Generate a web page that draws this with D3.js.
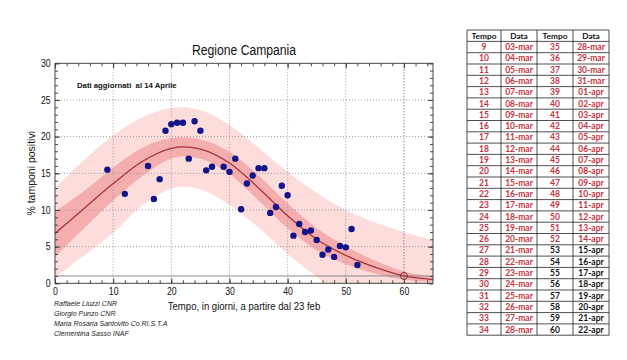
<!DOCTYPE html>
<html>
<head>
<meta charset="utf-8">
<script src="https://cdn.jsdelivr.net/npm/d3@7"></script>
<style>
  html, body { margin: 0; padding: 0; background: #ffffff; }
  svg { display: block; }
</style>
</head>
<body>
<script>
// ---------- DATA ----------
const chartTitle = "Regione Campania";
const xLabel = "Tempo, in giorni, a partire dal 23 feb";
const yLabel = "% tamponi positivi";
const noteText = "Dati aggiornati  al 14 Aprile";
const authors = ["Raffaele Liuzzi CNR", "Giorgio Punzo CNR", "Maria Rosaria Santovito Co.RI.S.T.A", "Clementina Sasso INAF"];

const xTicks = [0, 10, 20, 30, 40, 50, 60];
const yTicks = [0, 5, 10, 15, 20, 25, 30];

// observed points (day, % positive swabs)
const days = [9, 12, 16, 17, 18, 19, 20, 21, 22, 23, 24, 25, 26, 27, 29, 30, 31, 32, 33, 34, 35, 36, 37, 38, 39, 40, 41, 42, 43, 44, 45, 46, 47, 48, 49, 50, 51, 52];
const pct  = [15.5, 12.2, 16.0, 11.5, 14.2, 20.8, 21.7, 21.9, 21.9, 17.0, 22.1, 20.8, 15.4, 15.9, 15.9, 15.2, 17.0, 10.1, 13.6, 14.7, 15.7, 15.7, 9.6, 10.4, 13.3, 12.0, 6.5, 8.1, 7.0, 7.2, 5.9, 3.9, 4.6, 3.6, 5.1, 4.9, 7.4, 2.5];

// fitted curve and confidence bands
const fitX     = [0, 5, 10, 15, 20, 22, 25, 30, 35, 40, 45, 50, 55, 60, 65];
const fitY     = [6.8, 10.2, 13.6, 16.6, 18.4, 18.6, 18.3, 16.4, 13.0, 9.2, 6.0, 3.8, 2.2, 1.0, 0.5];
const innerLo  = [3.6, 7.5, 11.3, 14.6, 17.0, 17.3, 17.0, 14.9, 11.3, 7.5, 4.5, 2.6, 1.3, 0.5, 0.2];
const innerHi  = [9.8, 12.6, 15.8, 18.5, 19.8, 19.9, 19.6, 17.9, 14.7, 10.9, 7.5, 5.1, 3.1, 1.6, 0.9];
const outerLo  = [0.8, 3.8, 6.9, 10.6, 12.9, 13.2, 12.8, 10.7, 7.6, 4.0, 0.9, -2.0, -4.0, -5.0, -5.5];
const outerHi  = [13.0, 16.8, 20.2, 22.6, 23.9, 24.0, 23.6, 21.6, 18.5, 15.2, 12.3, 10.0, 8.3, 7.0, 5.9];

const refLevel = 1;          // horizontal reference line
const markerX = [60], markerY = [1.0]; // open circle

// table
const tableHeader = ["Tempo", "Data", "Tempo", "Data"];
const tempo1 = [9, 10, 11, 12, 13, 14, 15, 16, 17, 18, 19, 20, 21, 22, 23, 24, 25, 26, 27, 28, 29, 30, 31, 32, 33, 34];
const data1 = ["03-mar", "04-mar", "05-mar", "06-mar", "07-mar", "08-mar", "09-mar", "10-mar", "11-mar", "12-mar", "13-mar", "14-mar", "15-mar", "16-mar", "17-mar", "18-mar", "19-mar", "20-mar", "21-mar", "22-mar", "23-mar", "24-mar", "25-mar", "26-mar", "27-mar", "28-mar"];
const tempo2 = [35, 36, 37, 38, 39, 40, 41, 42, 43, 44, 45, 46, 47, 48, 49, 50, 51, 52, 53, 54, 55, 56, 57, 58, 59, 60];
const data2 = ["28-mar", "29-mar", "30-mar", "31-mar", "01-apr", "02-apr", "03-apr", "04-apr", "05-apr", "06-apr", "07-apr", "08-apr", "09-apr", "10-apr", "11-apr", "12-apr", "13-apr", "14-apr", "15-apr", "16-apr", "17-apr", "18-apr", "19-apr", "20-apr", "21-apr", "22-apr"];
const lastDataDay = 52;

// ---------- DRAW ----------
const W = 627, H = 360;
const svg = d3.select("body").append("svg").attr("width", W).attr("height", H)
  .style("font-family", "'Liberation Sans', Arial, sans-serif");
svg.append("rect").attr("width", W).attr("height", H).attr("fill", "#fff");

const x = d3.scaleLinear().domain([0, 65]).range([55, 433]);
const y = d3.scaleLinear().domain([0, 30]).range([283.3, 63.3]);
const [x0, x1] = x.range(), [y0, y1] = y.range();

svg.append("clipPath").attr("id", "plotclip")
  .append("rect").attr("x", x0).attr("y", y1).attr("width", x1 - x0).attr("height", y0 - y1);
const plot = svg.append("g").attr("clip-path", "url(#plotclip)");

const fit = fitX.map((d, i) => ({ x: d, y: fitY[i], il: innerLo[i], ih: innerHi[i], ol: outerLo[i], oh: outerHi[i] }));

const area = (lo, hi) => d3.area().x(d => x(d.x)).y0(d => y(d[lo])).y1(d => y(d[hi])).curve(d3.curveMonotoneX);
plot.append("path").datum(fit).attr("d", area("ol", "oh")).attr("fill", "#fddcdc");
plot.append("path").datum(fit).attr("d", area("il", "ih")).attr("fill", "#f5aeae");

// grid
const grid = plot.append("g");
grid.selectAll(".gx").data(xTicks.filter(t => t > 0)).join("line")
  .attr("x1", d => x(d)).attr("x2", d => x(d)).attr("y1", y1).attr("y2", y0)
  .attr("stroke", d => d === 60 ? "#555" : "#9a9a9a").attr("stroke-width", 1)
  .attr("stroke-dasharray", "1,2");
grid.selectAll(".gy").data(yTicks.filter(t => t > 0 && t < 30)).join("line")
  .attr("x1", x0).attr("x2", x1).attr("y1", d => y(d)).attr("y2", d => y(d))
  .attr("stroke", "#9a9a9a").attr("stroke-width", 1).attr("stroke-dasharray", "1,2");
grid.append("line").attr("x1", x0).attr("x2", x1).attr("y1", y(refLevel)).attr("y2", y(refLevel))
  .attr("stroke", "#8c8c8c").attr("stroke-width", 1);

// fitted curve
plot.append("path").datum(fit)
  .attr("d", d3.line().x(d => x(d.x)).y(d => y(d.y)).curve(d3.curveMonotoneX))
  .attr("fill", "none").attr("stroke", "#a8333a").attr("stroke-width", 1.3);

// observed points
plot.selectAll(".pt").data(days.map((d, i) => [d, pct[i]])).join("circle")
  .attr("cx", d => x(d[0])).attr("cy", d => y(d[1])).attr("r", 3.2).attr("fill", "#13138a");

// open marker
plot.selectAll(".mk").data(markerX.map((d, i) => [d, markerY[i]])).join("circle")
  .attr("cx", d => x(d[0])).attr("cy", d => y(d[1])).attr("r", 3.5)
  .attr("fill", "none").attr("stroke", "#7a3030").attr("stroke-width", 1);

// axes (ticks inside)
const axColor = "#444";
function styleAxis(g) {
  g.select(".domain").remove();
  g.selectAll(".tick line").attr("stroke", axColor);
  g.selectAll("text").attr("fill", "#111").style("font-size", "10px")
    .style("font-family", "'Liberation Sans', Arial, sans-serif");
}
const minorX = d3.range(0, 66, 2), minorY = d3.range(0, 31, 1);
svg.append("g").attr("transform", `translate(0,${y0})`)
  .call(d3.axisBottom(x).tickValues(minorX).tickSize(-3).tickFormat("")).call(styleAxis);
svg.append("g").attr("transform", `translate(0,${y1})`)
  .call(d3.axisTop(x).tickValues(minorX).tickSize(-3).tickFormat("")).call(styleAxis);
svg.append("g").attr("transform", `translate(${x0},0)`)
  .call(d3.axisLeft(y).tickValues(minorY).tickSize(-3).tickFormat("")).call(styleAxis);
svg.append("g").attr("transform", `translate(${x1},0)`)
  .call(d3.axisRight(y).tickValues(minorY).tickSize(-3).tickFormat("")).call(styleAxis);

const gxb = svg.append("g").attr("transform", `translate(0,${y0})`)
  .call(d3.axisBottom(x).tickValues(xTicks).tickSize(-5).tickPadding(5).tickFormat(d3.format("d"))).call(styleAxis);
gxb.selectAll("text").attr("transform", "scale(0.87,1)");
svg.append("g").attr("transform", `translate(0,${y1})`)
  .call(d3.axisTop(x).tickValues(xTicks).tickSize(-5).tickFormat("")).call(styleAxis);
const gyl = svg.append("g").attr("transform", `translate(${x0},0)`)
  .call(d3.axisLeft(y).tickValues(yTicks).tickSize(-5).tickPadding(5).tickFormat(d3.format("d"))).call(styleAxis);
gyl.selectAll("text").attr("transform", "scale(0.87,1)");
svg.append("g").attr("transform", `translate(${x1},0)`)
  .call(d3.axisRight(y).tickValues(yTicks).tickSize(-5).tickFormat("")).call(styleAxis);

svg.append("rect").attr("x", x0).attr("y", y1).attr("width", x1 - x0).attr("height", y0 - y1)
  .attr("fill", "none").attr("stroke", axColor).attr("stroke-width", 1);

// texts
function sqText(px, py, str, size, opts = {}) {
  const t = svg.append("text").attr("transform", `translate(${px},${py}) scale(${opts.sx || 0.87},1)`)
    .attr("text-anchor", opts.anchor || "start").style("font-size", size + "px")
    .style("white-space", "pre")
    .attr("fill", opts.fill || "#111").text(str);
  if (opts.weight) t.style("font-weight", opts.weight);
  if (opts.style) t.style("font-style", opts.style);
  if (opts.family) t.style("font-family", opts.family);
  return t;
}
sqText(244, 55, chartTitle, 14, { anchor: "middle" });
sqText(244, 310, xLabel, 11, { anchor: "middle" });
svg.append("text").attr("transform", `translate(35,${(y0 + y1) / 2}) rotate(-90)`)
  .attr("text-anchor", "middle").style("font-size", "10.5px").attr("fill", "#111").text(yLabel);
sqText(77, 88, noteText, 8, { weight: "bold", sx: 0.97 });
authors.forEach((a, i) => sqText(54, 306 + i * 10, a, 7, { style: "italic", sx: 1, fill: "#222" }));

// ---------- TABLE ----------
const colX = [467, 501, 537, 573, 609];
const headTop = 30, headH = 11.4, rowH = 11.3;
const tbl = svg.append("g").style("font-family", "Lato, 'Open Sans', sans-serif");
const nRows = tempo1.length;
const tBottom = headTop + headH + nRows * rowH;
const red = "#c8323c";

// header
tableHeader.forEach((h, j) => {
  tbl.append("text").attr("x", (colX[j] + colX[j + 1]) / 2).attr("y", headTop + headH / 2)
    .attr("dy", "0.35em").attr("text-anchor", "middle").style("font-size", "8.3px")
    .style("font-weight", "bold").attr("fill", "#111").text(h);
});
const rows = tempo1.map((t, i) => [t, data1[i], tempo2[i], data2[i]]);
rows.forEach((r, i) => {
  const cy = headTop + headH + (i + 0.5) * rowH;
  r.forEach((v, j) => {
    const tempoVal = j < 2 ? r[0] : r[2];
    tbl.append("text").attr("x", (colX[j] + colX[j + 1]) / 2).attr("y", cy)
      .attr("dy", "0.35em").attr("text-anchor", "middle").style("font-size", "8.5px")
      .style("font-weight", "bold")
      .attr("fill", tempoVal <= lastDataDay ? red : "#111").text(v);
  });
});
// grid lines of table
const hLines = [headTop, headTop + headH].concat(d3.range(1, nRows + 1).map(i => headTop + headH + i * rowH));
tbl.selectAll(".hl").data(hLines).join("line")
  .attr("x1", colX[0]).attr("x2", colX[4]).attr("y1", d => d).attr("y2", d => d)
  .attr("stroke", "#222").attr("stroke-width", 0.8);
tbl.selectAll(".vl").data(colX).join("line")
  .attr("x1", d => d).attr("x2", d => d).attr("y1", headTop).attr("y2", tBottom)
  .attr("stroke", "#222").attr("stroke-width", 0.8);
</script>
</body>
</html>
